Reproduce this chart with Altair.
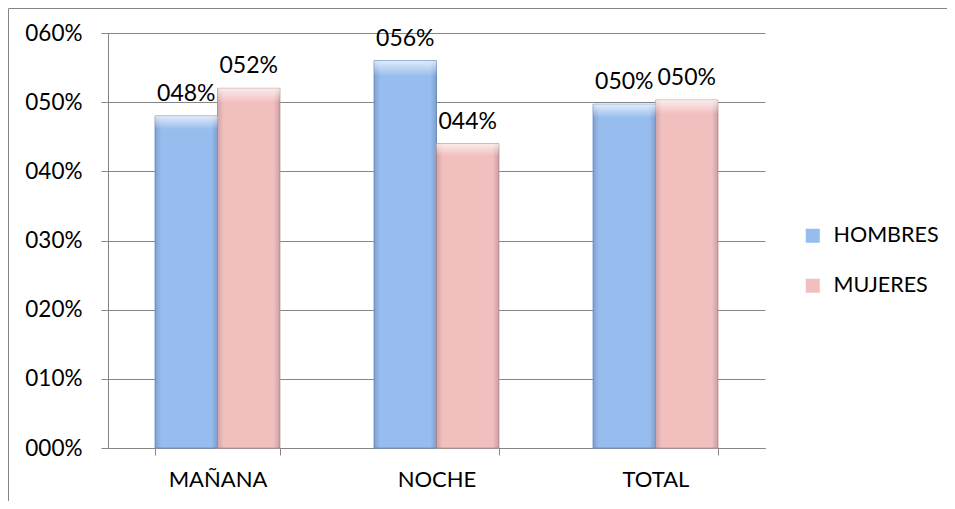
import altair as alt
import pandas as pd

categories = ["MAÑANA", "NOCHE", "TOTAL"]
series = ["HOMBRES", "MUJERES"]
hombres = [0.48, 0.56, 0.497]
mujeres = [0.52, 0.44, 0.503]
y_ticks = [0, 0.1, 0.2, 0.3, 0.4, 0.5, 0.6]
fills = ["#97BDEE", "#F2BFBF"]
strokes = ["#7397CA", "#C79A9A"]

rows = []
for i, c in enumerate(categories):
    rows.append({"cat": c, "serie": series[0], "val": hombres[i]})
    rows.append({"cat": c, "serie": series[1], "val": mujeres[i]})
df = pd.DataFrame(rows)

FONT = "Lato"
GRID = "#868686"

x = alt.X(
    "cat:N", sort=categories,
    scale=alt.Scale(paddingInner=0.43, paddingOuter=0.215),
    axis=alt.Axis(title=None, labelAngle=0, tickBand="extent", ticks=True, tickSize=7,
                  domainColor=GRID, tickColor=GRID, labelFontSize=22, labelFont=FONT,
                  labelColor="black", labelPadding=14, grid=False),
)
xo = alt.XOffset("serie:N", sort=series, scale=alt.Scale(paddingInner=0))
y = alt.Y(
    "val:Q", scale=alt.Scale(domain=[0, 0.6], nice=False),
    axis=alt.Axis(title=None, values=y_ticks, format="04.0%", grid=True, gridColor=GRID,
                  domainColor=GRID, tickColor=GRID, tickSize=7, labelPadding=19,
                  labelFontSize=22.5, labelFont=FONT, labelColor="black"),
)

bars = alt.Chart(df).mark_bar(strokeWidth=1).encode(
    x=x, xOffset=xo, y=y,
    color=alt.Color("serie:N", sort=series, scale=alt.Scale(domain=series, range=fills),
                    legend=alt.Legend(title=None, orient="none", legendX=694, legendY=192,
                                      symbolType="square", symbolSize=196,
                                      symbolStrokeWidth=0,
                                      labelFontSize=21.5, labelFont=FONT, labelColor="black",
                                      rowPadding=27, labelOffset=10)),
    stroke=alt.Stroke("serie:N", scale=alt.Scale(domain=series, range=strokes), legend=None),
)

side = alt.Chart(df).mark_bar(
    color=alt.LinearGradient(
        gradient="linear", x1=0, x2=1, y1=0, y2=0,
        stops=[alt.GradientStop(offset=0, color="rgba(0,0,30,0.14)"),
               alt.GradientStop(offset=0.1, color="rgba(0,0,30,0)"),
               alt.GradientStop(offset=0.9, color="rgba(0,0,30,0)"),
               alt.GradientStop(offset=1, color="rgba(0,0,30,0.16)")])
).encode(x=x, xOffset=xo, y=y)

top = alt.Chart(df).mark_bar(
    color=alt.LinearGradient(
        gradient="linear", x1=0, x2=0, y1=0, y2=1,
        stops=[alt.GradientStop(offset=0, color="rgba(255,255,255,0.7)"),
               alt.GradientStop(offset=0.04, color="rgba(255,255,255,0)"),
               alt.GradientStop(offset=1, color="rgba(255,255,255,0)")])
).encode(x=x, xOffset=xo, y=y)

labels = alt.Chart(df).mark_text(baseline="bottom", dy=-10, fontSize=23, font=FONT,
                                 color="black").encode(
    x=x, xOffset=xo, y=y, text=alt.Text("val:Q", format="04.0%")
)

border = alt.Chart(alt.Data(values=[{"a": 1}])).mark_rect(
    fill="transparent", stroke=GRID, strokeWidth=1
).encode(x=alt.value(-99.5), x2=alt.value(900), y=alt.value(-24.5), y2=alt.value(700))

chart = alt.layer(border, bars, side, top, labels).properties(
    width=657, height=415,
    autosize=alt.AutoSizeParams(type="none"),
    padding={"left": 100, "top": 25, "right": 182, "bottom": 53},
).configure_view(strokeWidth=0)

chart.save("out.html", embed_options={"renderer": "svg", "actions": False})
